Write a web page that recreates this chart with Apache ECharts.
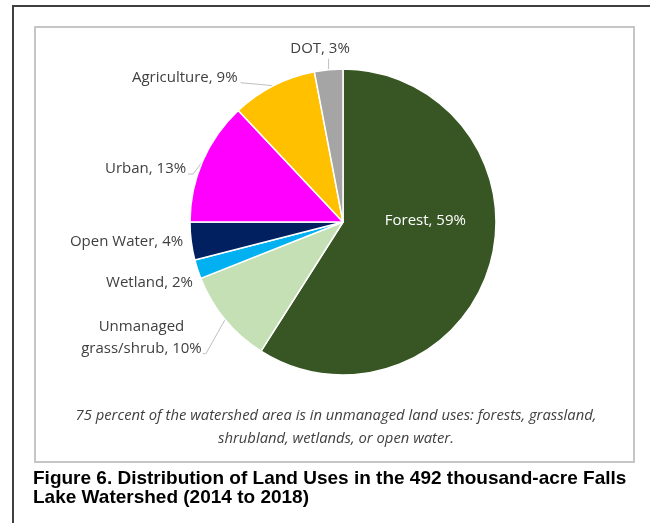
<!DOCTYPE html>
<html>
<head>
<meta charset="utf-8">
<script src="https://cdn.jsdelivr.net/npm/echarts@6/dist/echarts.min.js"></script>
<style>
html,body{margin:0;padding:0;background:#fff;}
#chart{width:650px;height:523px;}
</style>
</head>
<body>
<div id="chart"></div>
<script>
// Data
const categories = ['Forest', 'Unmanaged\ngrass/shrub', 'Wetland', 'Open Water', 'Urban', 'Agriculture', 'DOT'];
const values = [59, 10, 2, 4, 13, 9, 3];
const colors = ['#375623', '#c5e0b4', '#00b0f0', '#002060', '#ff00ff', '#ffc000', '#a5a5a5'];
const noteText = '75 percent of the watershed area is in unmanaged land uses: forests, grassland,\nshrubland, wetlands, or open water.';
const captionText = 'Figure 6. Distribution of Land Uses in the 492 thousand-acre Falls\nLake Watershed (2014 to 2018)';

// label nudges (style only), per slice, [dx, dy], and leader-line style
const labelNudge = [[6, -23], [-4, 13], [12, 11], [8, 0], [-1, 11], [-11, -8], [35, -13]];
const lineMode = ['none', 'last', 'none', 'none', 'elbow', 'flat', 'vertical'];

const chart = echarts.init(document.getElementById('chart'));
const labelFont = 'Open Sans';
const labelColor = '#404040';
const dataItems = categories.map((c, i) => {
  const item = { name: c, value: values[i], itemStyle: { color: colors[i] }, labelLine: { show: lineMode[i] !== 'none' } };
  if (i === 0) {
    item.label = { position: 'inside', color: '#ffffff', rich: { c: { color: '#ffffff' } } };
  }
  return item;
});

function leaderPoints(mode, s, right, cy, bottom) {
  switch (mode) {
    case 'vertical': return [s, [s[0], cy + 10]];
    case 'flat': return [s, [right + 3, cy + 5]];
    case 'elbow': return [s, [right + 7, cy + 5], [right + 2, cy + 5]];
    case 'last': return [s, [right + 4, bottom - 6], [right + 1, bottom - 6]];
  }
  return null;
}

chart.setOption({
  animation: false,
  graphic: [
    { type: 'rect', shape: { x: 13, y: 6, width: 700, height: 600 }, style: { fill: 'none', stroke: '#404040', lineWidth: 2 }, silent: true },
    { type: 'rect', shape: { x: 35, y: 27, width: 599, height: 435 }, style: { fill: '#fff', stroke: '#c6c6c6', lineWidth: 2 }, silent: true, z: -1 },
    { type: 'text', style: { text: noteText, x: 336, y: 404, align: 'center', font: 'italic 14.8px "Open Sans"', fill: '#404040', lineHeight: 23 } },
    { type: 'text', style: { text: captionText, x: 33, y: 469, font: 'bold 19px "Liberation Sans Narrow", "Liberation Sans"', fill: '#000', lineHeight: 19 } }
  ],
  series: [{
    type: 'pie',
    center: [343, 222],
    radius: 153,
    startAngle: 90,
    clockwise: true,
    data: dataItems,
    itemStyle: { borderColor: '#ffffff', borderWidth: 1.5 },
    label: {
      show: true,
      position: 'outside',
      formatter: p => {
        const parts = p.name.split('\n');
        const tag = parts.length > 1 ? 'm' : 'c';
        return parts.map((t, k) => '{' + tag + '|' + t + (k === parts.length - 1 ? ', ' + p.value + '%' : '') + '}').join('\n');
      },
      fontFamily: labelFont,
      fontSize: 15,
      color: labelColor,
      lineHeight: 22,
      rich: {
        c: { fontFamily: labelFont, fontSize: 15, lineHeight: 22, color: labelColor },
        m: { fontFamily: labelFont, fontSize: 15, lineHeight: 22, color: labelColor, width: 121, align: 'center' }
      }
    },
    labelLine: { show: true, length: 8, length2: 8, lineStyle: { color: '#bfbfbf', width: 1 } },
    labelLayout: p => {
      const i = p.dataIndex;
      const [dx, dy] = labelNudge[i];
      const r = p.labelRect;
      const res = { dx: dx, dy: dy };
      if (lineMode[i] !== 'none' && p.labelLinePoints) {
        const x0 = r.x + dx, y0 = r.y + dy;
        res.labelLinePoints = leaderPoints(lineMode[i], p.labelLinePoints[0], x0 + r.width, y0 + r.height / 2, y0 + r.height);
      }
      return res;
    },
    emphasis: { disabled: true }
  }]
});
</script>
</body>
</html>
